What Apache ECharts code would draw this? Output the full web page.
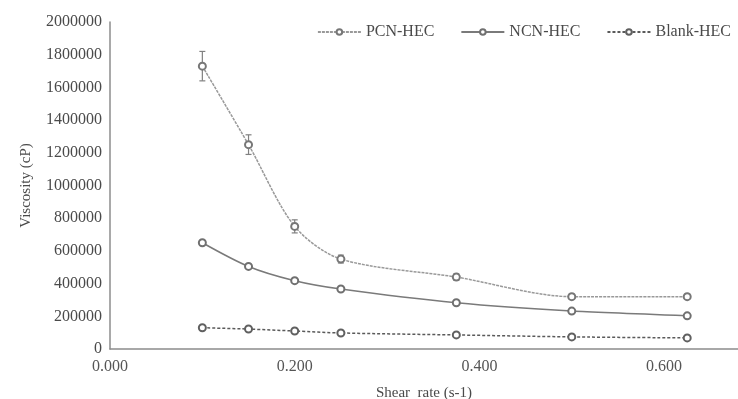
<!DOCTYPE html>
<html>
<head>
<meta charset="utf-8">
<script src="https://cdn.jsdelivr.net/npm/echarts@6/dist/echarts.min.js"></script>
<style>
  html, body { margin: 0; padding: 0; background: #fff; }
  #chart { width: 738px; height: 399px; }
</style>
</head>
<body>
<div id="chart"></div>
<script>
// Shear rate (s-1)
const shearRate = [0.1, 0.15, 0.2, 0.25, 0.375, 0.5, 0.625];
// Viscosity (cP)
const pcnHec = [1730000, 1250000, 750000, 550000, 440000, 320000, 320000];
const pcnErr = [90000, 60000, 40000, 24000, 20000, 15000, 15000];
const ncnHec = [650000, 505000, 418000, 367000, 283000, 232000, 203000];
const blankHec = [130000, 122000, 110000, 98000, 86000, 74000, 68000];
const yTicks = [0, 200000, 400000, 600000, 800000, 1000000, 1200000, 1400000, 1600000, 1800000, 2000000];

const serif = '"Liberation Serif", "DejaVu Serif", serif';
const textColor = '#4a4a4a';

const pairs = (ys) => shearRate.map((x, i) => [x, ys[i]]);

const chart = echarts.init(document.getElementById('chart'));
chart.setOption({
  animation: false,
  backgroundColor: '#fff',
  textStyle: { fontFamily: serif },
  grid: { left: 110, right: 0, top: 22, bottom: 50, outerBoundsMode: 'none' },
  legend: {
    right: 2,
    top: 19,
    itemWidth: 43,
    itemHeight: 7,
    itemGap: 26,
    textStyle: { fontFamily: serif, fontSize: 16, color: textColor },
    data: ['PCN-HEC', 'NCN-HEC', 'Blank-HEC']
  },
  xAxis: {
    type: 'value',
    min: 0,
    max: 0.68,
    interval: 0.2,
    name: 'Shear  rate (s-1)',
    nameLocation: 'middle',
    nameGap: 37,
    nameTextStyle: { fontFamily: serif, fontSize: 15, color: textColor },
    axisLine: { show: true, lineStyle: { color: '#8c8c8c', width: 1.5 } },
    axisTick: { show: false },
    splitLine: { show: false },
    axisLabel: {
      margin: 10,
      fontFamily: serif,
      fontSize: 16,
      color: '#555',
      showMaxLabel: false,
      formatter: (v) => v.toFixed(3)
    }
  },
  yAxis: {
    type: 'value',
    min: yTicks[0],
    max: yTicks[yTicks.length - 1],
    interval: yTicks[1] - yTicks[0],
    name: 'Viscosity (cP)',
    nameLocation: 'middle',
    nameGap: 76,
    nameTextStyle: { fontFamily: serif, fontSize: 15, color: textColor },
    axisLine: { show: true, lineStyle: { color: '#8c8c8c', width: 1.5 } },
    axisTick: { show: false },
    splitLine: { show: false },
    axisLabel: {
      margin: 8,
      fontFamily: serif,
      fontSize: 16,
      color: textColor,
      formatter: (v) => String(v)
    }
  },
  series: [
    {
      name: 'PCN-HEC',
      type: 'line',
      data: pairs(pcnHec),
      smooth: 0.3,
      symbol: 'emptyCircle',
      symbolSize: 7,
      showAllSymbol: true,
      lineStyle: { color: '#999', width: 1.5, type: [3, 1] },
      itemStyle: { color: '#777', borderWidth: 1.5 },
      z: 3
    },
    {
      name: 'NCN-HEC',
      type: 'line',
      data: pairs(ncnHec),
      smooth: 0.3,
      symbol: 'emptyCircle',
      symbolSize: 7,
      showAllSymbol: true,
      lineStyle: { color: '#7a7a7a', width: 1.5 },
      itemStyle: { color: '#707070', borderWidth: 1.5 },
      z: 3
    },
    {
      name: 'Blank-HEC',
      type: 'line',
      data: pairs(blankHec),
      smooth: 0.3,
      symbol: 'emptyCircle',
      symbolSize: 7,
      showAllSymbol: true,
      lineStyle: { color: '#5a5a5a', width: 1.5, type: [3, 2] },
      itemStyle: { color: '#606060', borderWidth: 1.5 },
      z: 3
    },
    {
      name: 'PCN-HEC error',
      type: 'custom',
      data: shearRate.map((x, i) => [x, pcnHec[i] - pcnErr[i], pcnHec[i] + pcnErr[i]]),
      renderItem: (params, api) => {
        const lo = api.coord([api.value(0), api.value(1)]);
        const hi = api.coord([api.value(0), api.value(2)]);
        const w = 3;
        const style = { stroke: '#808080', lineWidth: 1.2, fill: null };
        return {
          type: 'group',
          children: [
            { type: 'line', shape: { x1: lo[0], y1: lo[1], x2: hi[0], y2: hi[1] }, style },
            { type: 'line', shape: { x1: lo[0] - w, y1: lo[1], x2: lo[0] + w, y2: lo[1] }, style },
            { type: 'line', shape: { x1: hi[0] - w, y1: hi[1], x2: hi[0] + w, y2: hi[1] }, style }
          ]
        };
      },
      z: 2
    }
  ]
});
</script>
</body>
</html>
